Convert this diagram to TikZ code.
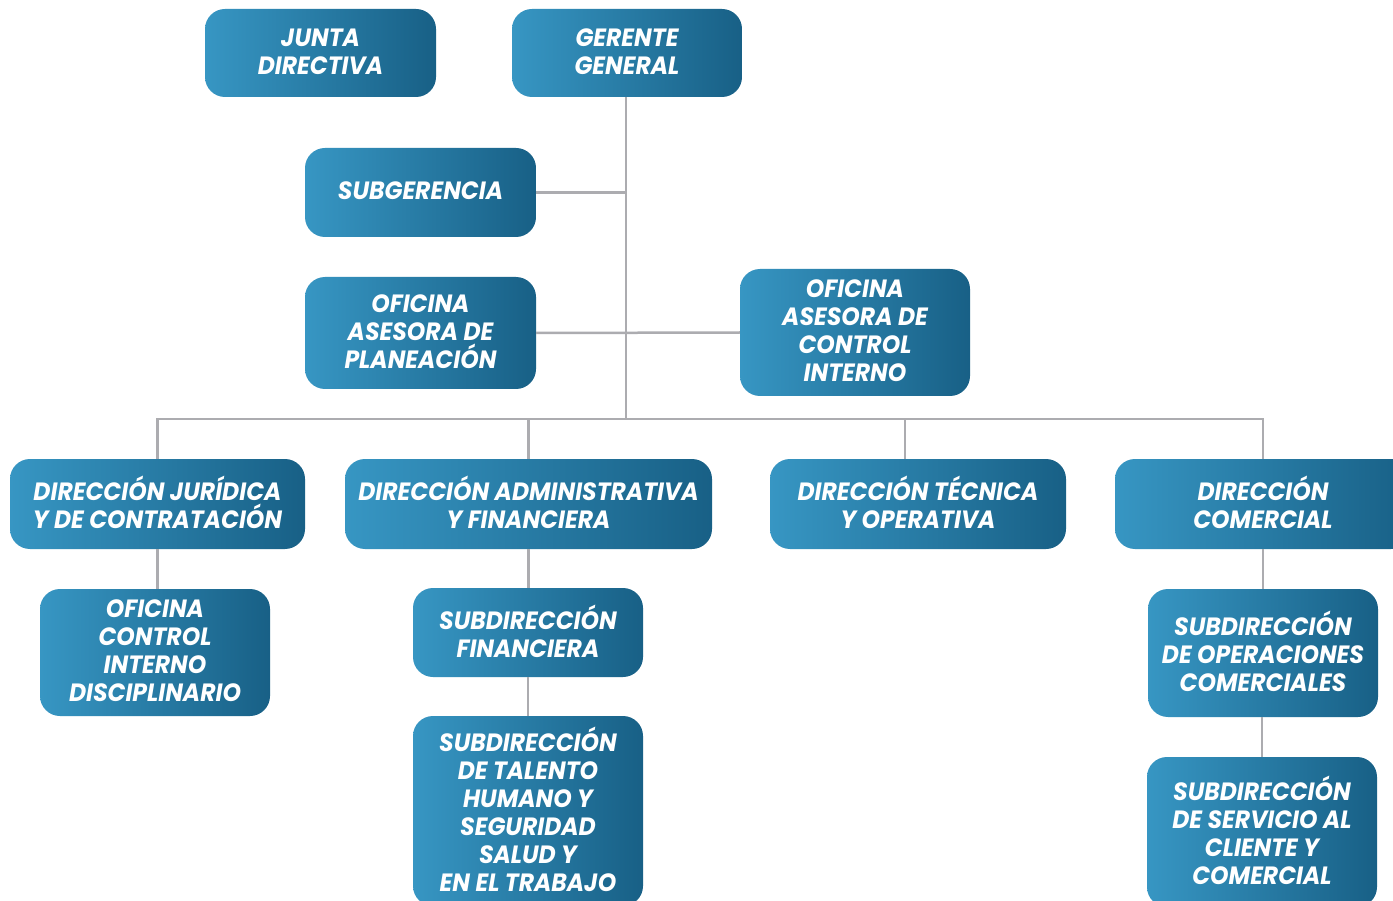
\documentclass[tikz,border=0pt]{standalone}
\usepackage{fontspec}
\setmainfont{Poppins}[FakeStretch=0.94]
\definecolor{boxL}{RGB}{55,150,195}
\definecolor{boxR}{RGB}{24,96,134}
\definecolor{lineg}{RGB}{172,172,176}
\begin{document}
\begin{tikzpicture}[x=1pt,y=-1pt,
  box/.style={rounded corners=20pt, left color=boxL, right color=boxR, draw=none,
    text=white, align=center, inner sep=0pt, text depth=3pt,
    font=\fontsize{25}{28}\selectfont\bfseries\itshape},
  conn/.style={draw=lineg, line width=2.5pt}]
\useasboundingbox (0,0) rectangle (1393,901);
\clip (0,0) rectangle (1393,901);
\fill[white] (0,0) rectangle (1393,901);
% nodes
\node[box, minimum width=231pt, minimum height=88pt] (jd) at (320.5,53) {JUNTA\\DIRECTIVA};
\node[box, minimum width=230pt, minimum height=88pt] (gg) at (627,53) {GERENTE\\GENERAL};
\node[box, minimum width=231pt, minimum height=89pt] (sg) at (420.5,192.5) {SUBGERENCIA};
\node[box, minimum width=231pt, minimum height=112pt] (oap) at (420.5,333) {OFICINA\\ASESORA DE\\PLANEACIÓN};
\node[box, minimum width=230pt, minimum height=127pt] (oaci) at (855,332.5) {OFICINA\\ASESORA DE\\CONTROL\\INTERNO};
\node[box, minimum width=295pt, minimum height=90pt] (dj) at (157.5,504) {DIRECCIÓN JURÍDICA\\Y DE CONTRATACIÓN};
\node[box, minimum width=367pt, minimum height=90pt] (da) at (528.5,504) {DIRECCIÓN ADMINISTRATIVA\\Y FINANCIERA};
\node[box, minimum width=296pt, minimum height=90pt] (dt) at (918,504) {DIRECCIÓN TÉCNICA\\Y OPERATIVA};
\node[box, minimum width=296pt, minimum height=90pt] (dc) at (1263,504) {DIRECCIÓN\\COMERCIAL};
\node[box, minimum width=230pt, minimum height=127pt] (ocid) at (155,652.5) {OFICINA\\CONTROL\\INTERNO\\DISCIPLINARIO};
\node[box, minimum width=230pt, minimum height=89pt] (sf) at (528,632.5) {SUBDIRECCIÓN\\FINANCIERA};
\node[box, minimum width=230pt, minimum height=190pt] (st) at (528,811) {SUBDIRECCIÓN\\DE TALENTO\\HUMANO Y\\SEGURIDAD\\SALUD Y\\EN EL TRABAJO};
\node[box, minimum width=230pt, minimum height=128pt] (soc) at (1263,653) {SUBDIRECCIÓN\\DE OPERACIONES\\COMERCIALES};
\node[box, minimum width=230pt, minimum height=150pt] (ssc) at (1262,832) {SUBDIRECCIÓN\\DE SERVICIO AL\\CLIENTE Y\\COMERCIAL};
% connectors
\coordinate (bus) at (626,419);
\draw[conn] ([xshift=-1pt]gg.south) -- ([xshift=-1pt]gg.south |- bus);
\draw[conn] (sg.east) -- (sg.east -| bus);
\draw[conn] (oap.east) -- (oaci.west);
\draw[conn] (dj.north) |- (dc.north |- bus) -- (dc.north);
\draw[conn] (da.north) -- (da.north |- bus);
\draw[conn] ([xshift=-13pt]dt.north) -- ([xshift=-13pt]dt.north |- bus);
\draw[conn] (dj.south) -- (ocid.north -| dj.south);
\draw[conn] (da.south) -- (sf.north -| da.south);
\draw[conn] (sf.south) -- (st.north);
\draw[conn] (dc.south) -- (soc.north);
\draw[conn] (soc.south -| ssc.north) -- (ssc.north);
\end{tikzpicture}
\end{document}
